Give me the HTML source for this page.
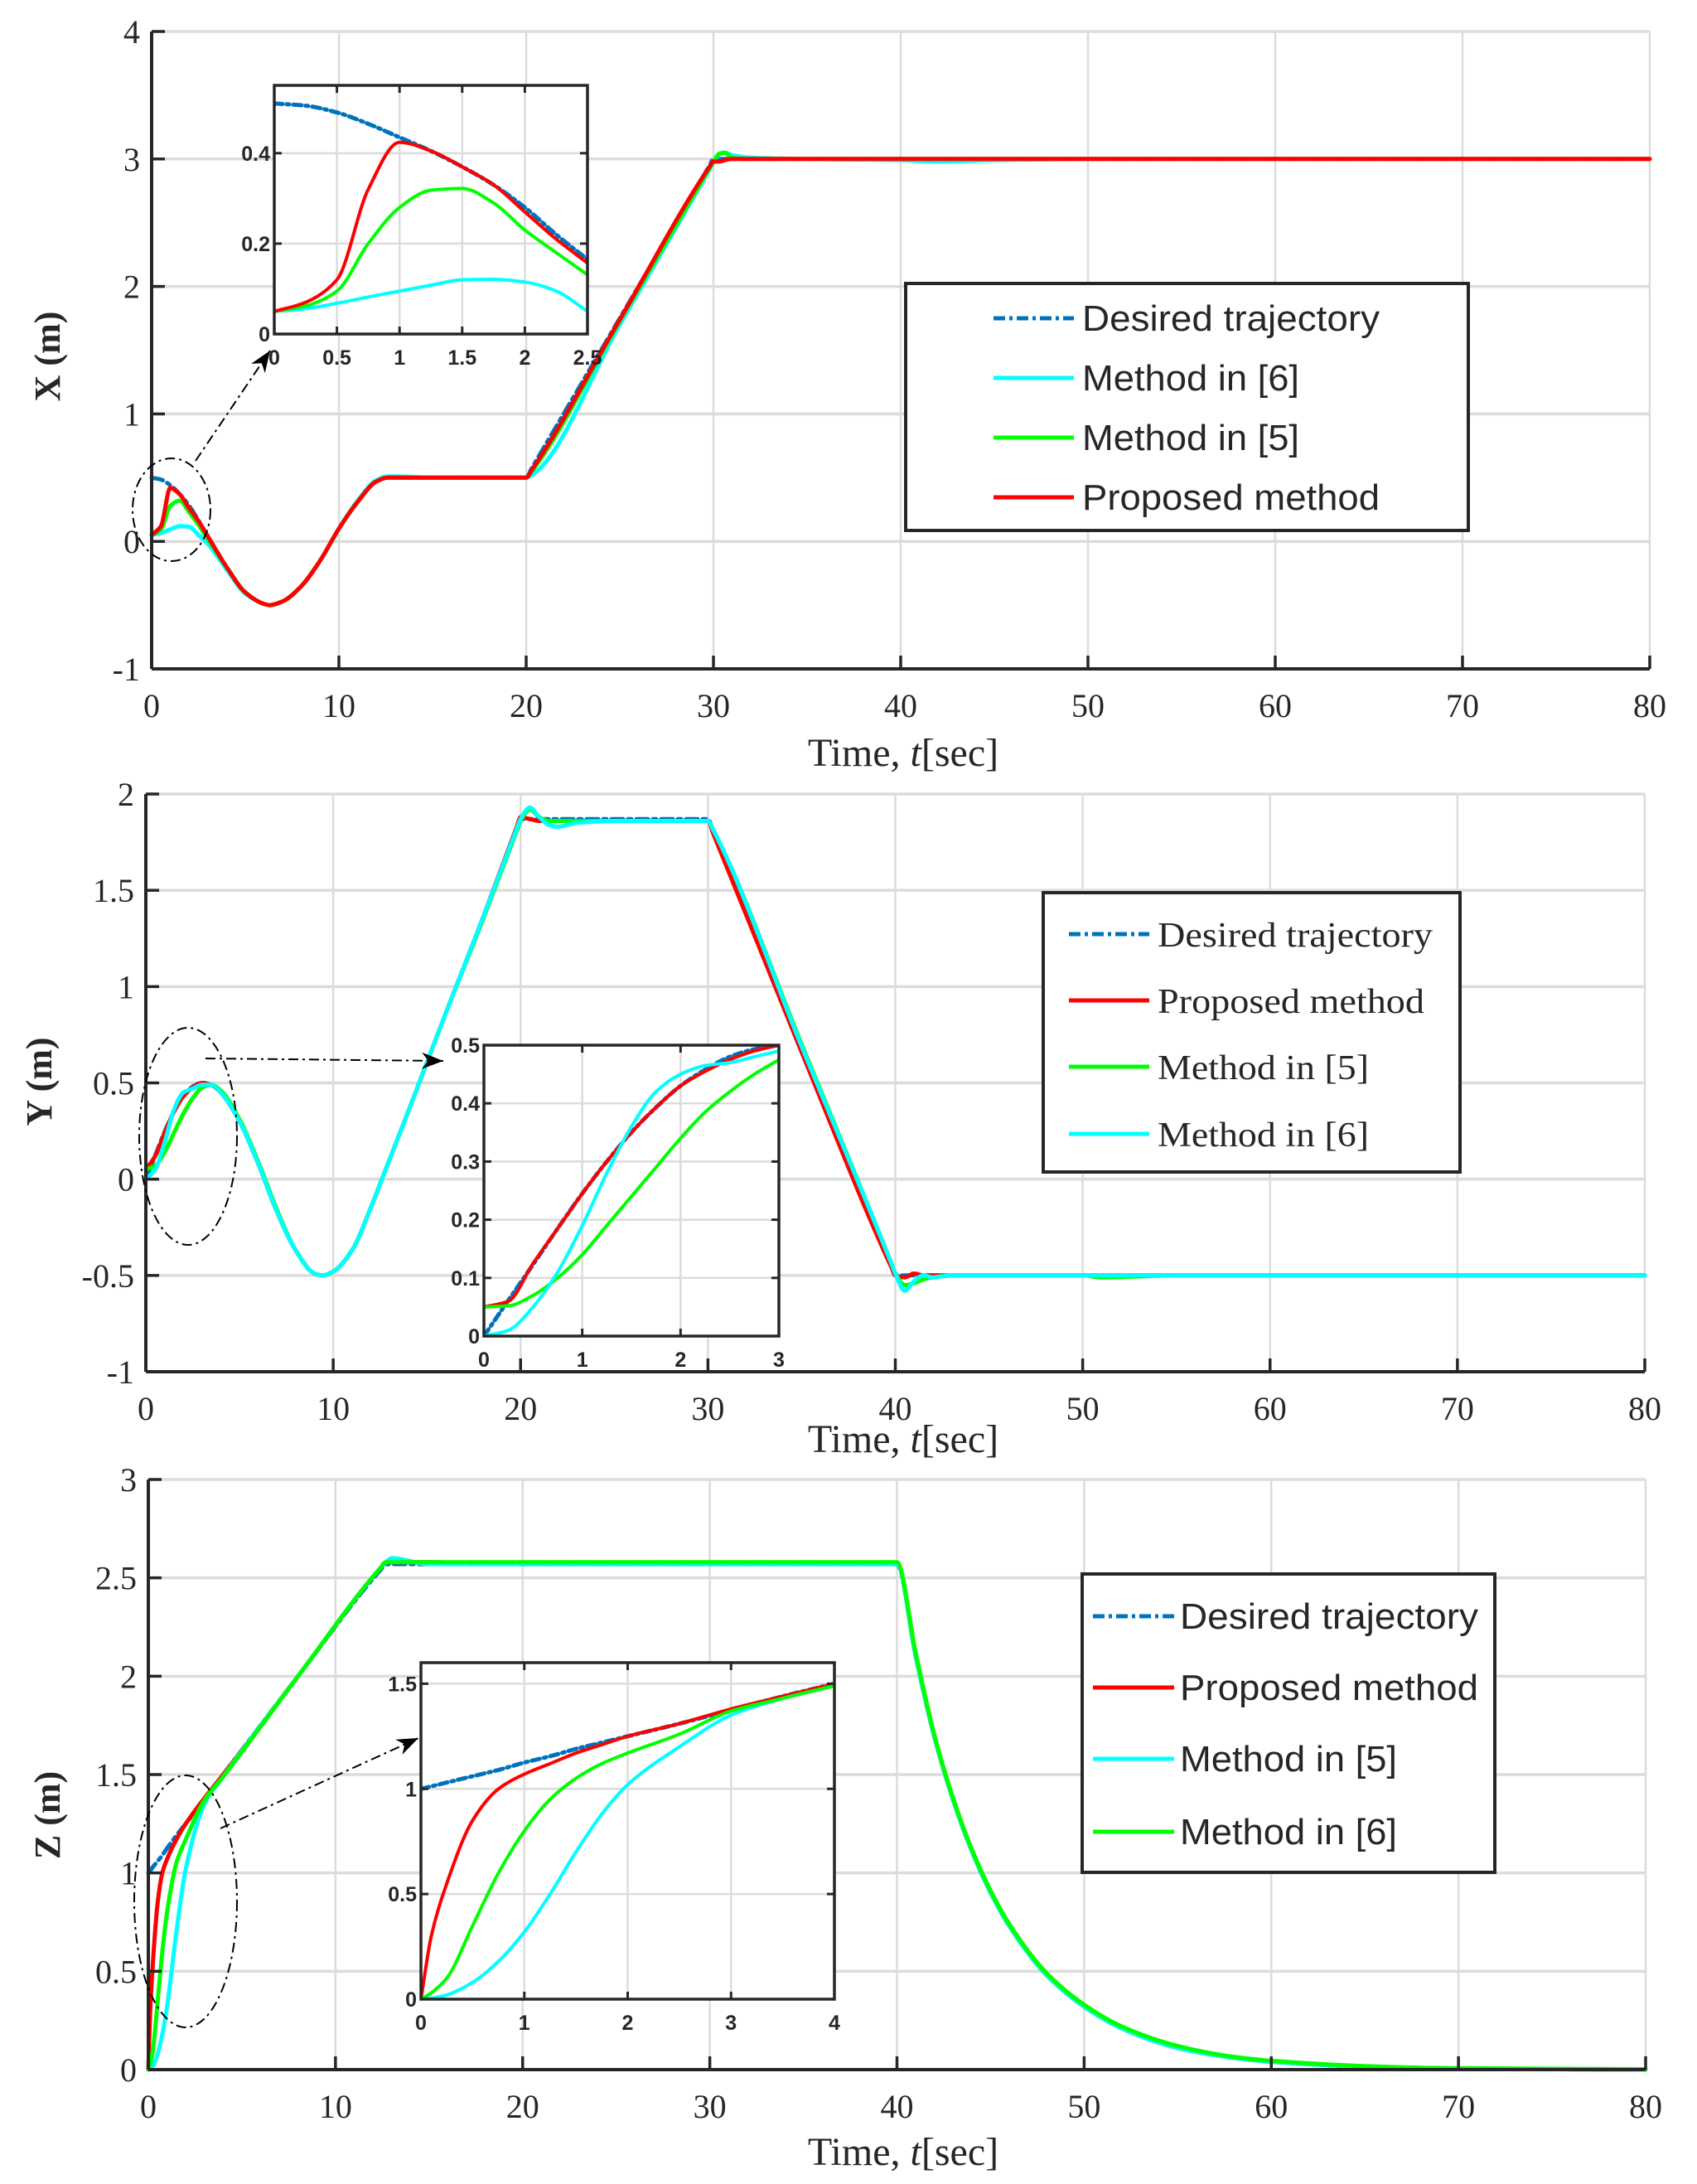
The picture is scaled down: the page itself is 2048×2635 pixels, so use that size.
<!DOCTYPE html>
<html><head><meta charset="utf-8">
<style>
html,body{margin:0;padding:0;background:#fff;}
svg{display:block;}
text{fill:#262626;}
</style></head>
<body>
<svg id="fig" width="2048" height="2635" viewBox="0 0 2048 2635" xmlns="http://www.w3.org/2000/svg"></svg>
<script>
// ---------- Plot 1 (X) data ----------
const p1Time = [0,0.5,1,1.5,2,2.5,3,4,5,6,6.3,7,8,9,10,11,12,12.6,13,15,19.8,20,20.3,25,29.8,30,30.3,30.6,31,32,35,40,42,45,50,80];
const p1Desired = [0.5,0.485,0.44,0.37,0.28,0.165,0.04,-0.2,-0.4,-0.49,-0.5,-0.47,-0.35,-0.15,0.1,0.31,0.47,0.5,0.5,0.5,0.5,0.5,0.575,1.75,2.95,3,3,3,3,3,3,3,3,3,3,3];
const p1Method6 = [0.05,0.065,0.095,0.12,0.115,0.05,-0.02,-0.22,-0.41,-0.49,-0.5,-0.47,-0.35,-0.15,0.1,0.32,0.48,0.51,0.51,0.5,0.5,0.5,0.52,1.7,2.92,2.97,3.04,3.05,3.03,3.01,3,2.99,2.98,2.99,3,3];
const p1Method5 = [0.05,0.095,0.28,0.32,0.23,0.13,0.02,-0.2,-0.4,-0.49,-0.5,-0.47,-0.35,-0.15,0.1,0.31,0.47,0.5,0.5,0.5,0.5,0.5,0.55,1.73,2.93,2.98,3.04,3.05,3.01,3,3,3,3,3,3,3];
const p1Proposed = [0.05,0.12,0.42,0.37,0.26,0.16,0.04,-0.2,-0.4,-0.49,-0.5,-0.47,-0.35,-0.15,0.1,0.31,0.47,0.5,0.5,0.5,0.5,0.5,0.56,1.74,2.94,2.98,2.98,2.99,3,3,3,3,3,3,3,3];
const p1InTime = [0,0.25,0.5,0.75,1,1.25,1.5,1.75,2,2.25,2.5];
const p1InDesired = [0.51,0.505,0.49,0.465,0.435,0.405,0.37,0.33,0.28,0.22,0.165];
const p1InMethod6 = [0.05,0.056,0.068,0.082,0.095,0.108,0.12,0.121,0.115,0.095,0.05];
const p1InMethod5 = [0.05,0.062,0.095,0.2,0.28,0.318,0.322,0.29,0.23,0.18,0.131];
const p1InProposed = [0.05,0.07,0.12,0.32,0.424,0.405,0.37,0.33,0.27,0.21,0.157];
const p1YTicks = [-1,0,1,2,3,4];
const p1XTicks = [0,10,20,30,40,50,60,70,80];
const p1InYTicks = [0,0.2,0.4];
const p1InXTicks = [0,0.5,1,1.5,2,2.5];

// ---------- Plot 2 (Y) data ----------
const p2Time = [0,0.5,1,1.5,2,2.5,3,3.5,4,5,6,7,8,9,9.45,10,11,12,12.6,14,16,18,19.8,20,20.5,21,21.5,22,23,25,30,30.3,35,39.8,40,40.5,41,41.5,42,43,45,50,51,55,80];
const p2Desired = [0,0.123,0.245,0.35,0.43,0.48,0.5,0.49,0.45,0.3,0.08,-0.17,-0.37,-0.49,-0.5,-0.48,-0.37,-0.15,0,0.35,0.86,1.36,1.82,1.87,1.87,1.87,1.87,1.87,1.87,1.87,1.87,1.80,0.68,-0.45,-0.5,-0.5,-0.5,-0.5,-0.5,-0.5,-0.5,-0.5,-0.5,-0.5,-0.5];
const p2Proposed = [0.05,0.12,0.24,0.35,0.43,0.475,0.5,0.49,0.45,0.3,0.08,-0.17,-0.37,-0.49,-0.5,-0.48,-0.37,-0.15,0,0.35,0.86,1.36,1.83,1.88,1.87,1.86,1.86,1.86,1.86,1.86,1.86,1.79,0.66,-0.46,-0.5,-0.51,-0.49,-0.5,-0.5,-0.5,-0.5,-0.5,-0.5,-0.5,-0.5];
const p2Method5 = [0.05,0.07,0.14,0.24,0.34,0.42,0.475,0.49,0.46,0.31,0.09,-0.16,-0.37,-0.49,-0.5,-0.48,-0.37,-0.15,0,0.35,0.86,1.35,1.81,1.86,1.92,1.88,1.86,1.86,1.86,1.86,1.86,1.81,0.7,-0.44,-0.49,-0.55,-0.54,-0.52,-0.51,-0.5,-0.5,-0.5,-0.51,-0.5,-0.5];
const p2Method6 = [0,0.05,0.19,0.36,0.45,0.47,0.49,0.49,0.45,0.3,0.08,-0.17,-0.37,-0.49,-0.5,-0.48,-0.37,-0.15,0,0.35,0.86,1.36,1.82,1.87,1.93,1.88,1.84,1.83,1.85,1.86,1.86,1.81,0.69,-0.44,-0.49,-0.58,-0.53,-0.5,-0.51,-0.5,-0.5,-0.5,-0.5,-0.5,-0.5];
const p2InTime = [0,0.25,0.5,0.75,1,1.25,1.5,1.75,2,2.25,2.5,2.75,3];
const p2InDesired = [0,0.062,0.123,0.185,0.245,0.3,0.35,0.393,0.43,0.458,0.48,0.493,0.5];
const p2InProposed = [0.05,0.06,0.125,0.185,0.245,0.3,0.35,0.393,0.43,0.455,0.475,0.49,0.5];
const p2InMethod5 = [0.05,0.052,0.07,0.1,0.14,0.19,0.24,0.29,0.34,0.385,0.42,0.45,0.475];
const p2InMethod6 = [0,0.01,0.05,0.11,0.19,0.28,0.36,0.42,0.45,0.465,0.47,0.48,0.49];
const p2YTicks = [-1,-0.5,0,0.5,1,1.5,2];
const p2XTicks = [0,10,20,30,40,50,60,70,80];
const p2InYTicks = [0,0.1,0.2,0.3,0.4,0.5];
const p2InXTicks = [0,1,2,3];

// ---------- Plot 3 (Z) data ----------
const p3Time = [0,0.1,0.25,0.5,0.75,1,1.5,2,3,4,8,12.4,12.7,13,15,20,30,39.8,40,41,42,43,44,45,46,48,50,52,55,58,60,65,70,80];
const p3Desired = [1,1.012,1.03,1.06,1.09,1.125,1.19,1.25,1.375,1.5,2.0,2.54,2.57,2.57,2.57,2.57,2.57,2.57,2.57,2.1,1.69,1.37,1.11,0.9,0.73,0.48,0.32,0.21,0.11,0.06,0.04,0.015,0.005,0];
const p3Proposed = [0,0.3,0.55,0.85,1.0,1.07,1.17,1.25,1.38,1.5,2.0,2.55,2.58,2.58,2.58,2.57,2.57,2.57,2.57,2.1,1.69,1.37,1.11,0.9,0.73,0.48,0.32,0.21,0.11,0.06,0.04,0.015,0.005,0];
const p3Method5 = [0,0.005,0.02,0.08,0.18,0.32,0.7,1.02,1.35,1.49,2.0,2.55,2.58,2.6,2.57,2.57,2.57,2.57,2.57,2.1,1.69,1.37,1.11,0.9,0.73,0.48,0.32,0.21,0.11,0.06,0.04,0.015,0.005,0];
const p3Method6 = [0,0.03,0.1,0.35,0.6,0.8,1.05,1.17,1.37,1.49,2.0,2.55,2.58,2.58,2.58,2.58,2.58,2.58,2.58,2.12,1.7,1.38,1.12,0.91,0.74,0.49,0.33,0.22,0.12,0.065,0.045,0.018,0.007,0.002];
const p3InTime = [0,0.1,0.25,0.5,0.75,1,1.25,1.5,1.75,2,2.5,3,3.5,4];
const p3InDesired = [1,1.012,1.03,1.06,1.09,1.125,1.155,1.19,1.22,1.25,1.31,1.375,1.44,1.5];
const p3InProposed = [0,0.3,0.55,0.85,1.0,1.07,1.12,1.17,1.21,1.25,1.31,1.38,1.44,1.5];
const p3InMethod5 = [0,0.005,0.02,0.08,0.18,0.32,0.5,0.7,0.88,1.02,1.2,1.35,1.43,1.49];
const p3InMethod6 = [0,0.03,0.1,0.35,0.6,0.8,0.95,1.05,1.12,1.17,1.26,1.37,1.43,1.49];
const p3YTicks = [0,0.5,1,1.5,2,2.5,3];
const p3XTicks = [0,10,20,30,40,50,60,70,80];
const p3InYTicks = [0,0.5,1,1.5];
const p3InXTicks = [0,1,2,3,4];

// ---------- drawing ----------
const NS = 'http://www.w3.org/2000/svg';
const svg = document.getElementById('fig');
const BLUE='#0072BD', CYAN='#00FFFF', GREEN='#00FF00', RED='#FF0000', AX='#262626', GRID='#dcdcdc';
function mk(tag, attrs, parent){
  const e = document.createElementNS(NS, tag);
  for (const k in attrs) e.setAttribute(k, attrs[k]);
  (parent||svg).appendChild(e);
  return e;
}
function scale(d0,d1,r0,r1){ return v => r0 + (v-d0)/(d1-d0)*(r1-r0); }
function monoPath(px, py){
  const n = px.length;
  if (n < 3){ let d=''; for(let i=0;i<n;i++) d+=(i?'L':'M')+px[i].toFixed(1)+' '+py[i].toFixed(1); return d; }
  const dx=[], s=[];
  for (let i=0;i<n-1;i++){ dx.push(px[i+1]-px[i]); s.push((py[i+1]-py[i])/dx[i]); }
  const m=[s[0]];
  for (let i=1;i<n-1;i++){
    if (s[i-1]*s[i] <= 0) m.push(0);
    else { const w1=2*dx[i]+dx[i-1], w2=dx[i]+2*dx[i-1]; m.push((w1+w2)/(w1/s[i-1]+w2/s[i])); }
  }
  m.push(s[n-2]);
  let d='M'+px[0].toFixed(1)+' '+py[0].toFixed(1);
  for (let i=0;i<n-1;i++){
    const h=dx[i]/3;
    d+='C'+(px[i]+h).toFixed(1)+' '+(py[i]+m[i]*h).toFixed(1)+' '+(px[i+1]-h).toFixed(1)+' '+(py[i+1]-m[i+1]*h).toFixed(1)+' '+px[i+1].toFixed(1)+' '+py[i+1].toFixed(1);
  }
  return d;
}
function series(g, xs, ys, sx, sy, color, w, dash, name){
  const d = monoPath(xs.map(sx), ys.map(sy));
  const p = mk('path', {d:d, fill:'none', stroke:color, 'stroke-width':w, 'stroke-linejoin':'round', 'stroke-linecap':'round'}, g);
  if (dash) p.setAttribute('stroke-dasharray', dash);
  
  
  return p;
}
function fmt(v){ return String(v); }

function mainAxes(cfg){
  const g = mk('g', {});
  
  
  const sx = scale(0,80,cfg.x0,cfg.x1), sy = scale(cfg.ymin,cfg.ymax,cfg.yb,cfg.yt);
  cfg.xt.forEach(v=>{ const l=mk('line',{x1:sx(v),x2:sx(v),y1:cfg.yt,y2:cfg.yb,stroke:GRID,'stroke-width':2.5},g);
      });
  cfg.yt_.forEach(v=>{ const l=mk('line',{x1:cfg.x0,x2:cfg.x1,y1:sy(v),y2:sy(v),stroke:GRID,'stroke-width':3.5},g);
      });
  return {g,sx,sy};
}
function mainFrame(cfg, sx, sy){
  const g = mk('g', {});
  
  
  mk('line',{x1:cfg.x0,x2:cfg.x0,y1:cfg.yt,y2:cfg.yb,stroke:AX,'stroke-width':4},g);
  mk('line',{x1:cfg.x0,x2:cfg.x1,y1:cfg.yb,y2:cfg.yb,stroke:AX,'stroke-width':4},g);
  cfg.xt.forEach(v=>{
    mk('line',{x1:sx(v),x2:sx(v),y1:cfg.yb,y2:cfg.yb-16,stroke:AX,'stroke-width':3.5},g);
    const t=mk('text',{x:sx(v),y:cfg.yb+58,'text-anchor':'middle','font-family':'Liberation Serif, serif','font-size':40},g);
    t.textContent=fmt(v);
     
  });
  cfg.yt_.forEach(v=>{
    mk('line',{x1:cfg.x0,x2:cfg.x0+16,y1:sy(v),y2:sy(v),stroke:AX,'stroke-width':3.5},g);
    const t=mk('text',{x:cfg.x0-14,y:sy(v)+14,'text-anchor':'end','font-family':'Liberation Serif, serif','font-size':40},g);
    t.textContent=fmt(v);
     
  });
  const xl=mk('text',{x:cfg.xlx,y:cfg.xly,'text-anchor':'middle','font-family':'Liberation Serif, serif','font-size':48},g);
  xl.innerHTML='Time, <tspan font-style="italic">t</tspan>[sec]';
   
  const yl=mk('text',{x:0,y:0,'text-anchor':'middle','font-family':'Liberation Serif, serif','font-size':44,'font-weight':'bold','transform':`translate(${cfg.ylx},${cfg.yly}) rotate(-90)`},g);
  yl.textContent=cfg.ylabel;
   
}
function inset(cfg, sets){
  const g = mk('g', {});
  
  
  const {x0,x1,yt,yb}=cfg;
  mk('rect',{x:x0,y:yt,width:x1-x0,height:yb-yt,fill:'#fff'},g);
  const sx=scale(cfg.xmin,cfg.xmax,x0,x1), sy=scale(0,cfg.ymax,yb,yt);
  cfg.xt.forEach(v=>{ mk('line',{x1:sx(v),x2:sx(v),y1:yt,y2:yb,stroke:GRID,'stroke-width':2.5},g); });
  cfg.yt_.forEach(v=>{ mk('line',{x1:x0,x2:x1,y1:sy(v),y2:sy(v),stroke:GRID,'stroke-width':2.5},g); });
  const cid='clip-'+cfg.name;
  const cp=mk('clipPath',{id:cid},g); mk('rect',{x:x0,y:yt,width:x1-x0,height:yb-yt},cp);
  const sg=mk('g',{'clip-path':`url(#${cid})`},g);
  sets.forEach(s=>series(sg,s[0],s[1],sx,sy,s[2],s[3],s[4],s[5]));
  mk('rect',{x:x0,y:yt,width:x1-x0,height:yb-yt,fill:'none',stroke:AX,'stroke-width':3.5},g);
  cfg.xt.forEach(v=>{
    mk('line',{x1:sx(v),x2:sx(v),y1:yb,y2:yb-9,stroke:AX,'stroke-width':3},g);
    mk('line',{x1:sx(v),x2:sx(v),y1:yt,y2:yt+9,stroke:AX,'stroke-width':3},g);
    const t=mk('text',{x:sx(v),y:yb+37,'text-anchor':'middle','font-family':'Liberation Sans, sans-serif','font-size':25,'font-weight':'bold'},g);
    t.textContent=fmt(v);  
  });
  cfg.yt_.forEach(v=>{
    mk('line',{x1:x0,x2:x0+9,y1:sy(v),y2:sy(v),stroke:AX,'stroke-width':3},g);
    mk('line',{x1:x1,x2:x1-9,y1:sy(v),y2:sy(v),stroke:AX,'stroke-width':3},g);
    const t=mk('text',{x:x0-5,y:sy(v)+9,'text-anchor':'end','font-family':'Liberation Sans, sans-serif','font-size':25,'font-weight':'bold'},g);
    t.textContent=fmt(v);  
  });
}
function legend(cfg, entries){
  const g = mk('g', {});
  
  
  mk('rect',{x:cfg.x,y:cfg.y,width:cfg.w,height:cfg.h,fill:'#fff',stroke:AX,'stroke-width':4},g);
  entries.forEach((e,i)=>{
    const y=cfg.ys[i];
    const l=mk('line',{x1:cfg.lx0,x2:cfg.lx1,y1:y,y2:y,stroke:e[1],'stroke-width':5},g);
    if(e[2]) l.setAttribute('stroke-dasharray',e[2]);
    const t=mk('text',{x:cfg.tx,y:y+15,'font-family':cfg.font,'font-size':cfg.fs,fill:'#000',textLength:e[3],lengthAdjust:'spacingAndGlyphs'},g);
    t.textContent=e[0];
     
  });
}
function annot(name, ex,ey,rx,ry, ax0,ay0,ax1,ay1){
  const g = mk('g', {});
  
  
  mk('ellipse',{cx:ex,cy:ey,rx:rx,ry:ry,fill:'none',stroke:'#000','stroke-width':2,'stroke-dasharray':'12 5 3 5'},g);
  mk('line',{x1:ax0,y1:ay0,x2:ax1,y2:ay1,stroke:'#000','stroke-width':2,'stroke-dasharray':'12 5 3 5'},g);
  const a=Math.atan2(ay1-ay0,ax1-ax0), L=26, W=10;
  const bx=ax1-L*Math.cos(a), by=ay1-L*Math.sin(a);
  mk('polygon',{points:`${ax1},${ay1} ${bx-W*Math.sin(a)},${by+W*Math.cos(a)} ${bx+L*0.3*Math.cos(a)},${by+L*0.3*Math.sin(a)} ${bx+W*Math.sin(a)},${by-W*Math.cos(a)}`,fill:'#000'},g);
}

// Plot 1
const c1={name:'x-position-plot',x0:183,x1:1991,yt:38,yb:807,ymin:-1,ymax:4,xt:p1XTicks,yt_:p1YTicks,xlx:1090,xly:924,ylx:72,yly:430,ylabel:'X   (m)'};
let a1=mainAxes(c1);
series(a1.g,p1Time,p1Desired,a1.sx,a1.sy,BLUE,5,'14 6 4 6','x-desired-line');
series(a1.g,p1Time,p1Method6,a1.sx,a1.sy,CYAN,5,null,'x-method6-line');
series(a1.g,p1Time,p1Method5,a1.sx,a1.sy,GREEN,5,null,'x-method5-line');
series(a1.g,p1Time,p1Proposed,a1.sx,a1.sy,RED,5,null,'x-proposed-line');
mainFrame(c1,a1.sx,a1.sy);
annot('x-zoom-annotation',207,615,47,62,236,556,326,423);
inset({name:'x-inset',x0:331,x1:709,yt:103,yb:403,xmin:0,xmax:2.5,ymax:0.55,xt:p1InXTicks,yt_:p1InYTicks},[
 [p1InTime,p1InDesired,BLUE,5,'10 5 3 5','x-inset-desired'],
 [p1InTime,p1InMethod6,CYAN,4,null,'x-inset-method6'],
 [p1InTime,p1InMethod5,GREEN,4,null,'x-inset-method5'],
 [p1InTime,p1InProposed,RED,4,null,'x-inset-proposed']]);
legend({name:'x-legend',x:1093,y:342,w:679,h:298,lx0:1199,lx1:1296,tx:1306,fs:44,font:'Liberation Sans, sans-serif',ys:[384,456,528,600]},[
 ['Desired trajectory',BLUE,'14 5 4 5',359],['Method in [6]',CYAN,null,262],['Method in [5]',GREEN,null,262],['Proposed method',RED,null,359]]);

// Plot 2
const c2={name:'y-position-plot',x0:176,x1:1985,yt:958,yb:1655,ymin:-1,ymax:2,xt:p2XTicks,yt_:p2YTicks,xlx:1090,xly:1752,ylx:62,yly:1305,ylabel:'Y (m)'};
let a2=mainAxes(c2);
series(a2.g,p2Time,p2Desired,a2.sx,a2.sy,BLUE,5,'14 6 4 6','y-desired-line');
series(a2.g,p2Time,p2Proposed,a2.sx,a2.sy,RED,5,null,'y-proposed-line');
series(a2.g,p2Time,p2Method5,a2.sx,a2.sy,GREEN,5,null,'y-method5-line');
series(a2.g,p2Time,p2Method6,a2.sx,a2.sy,CYAN,5,null,'y-method6-line');
mainFrame(c2,a2.sx,a2.sy);
annot('y-zoom-annotation',227,1371,59,131,248,1277,535,1280);
inset({name:'y-inset',x0:584,x1:940,yt:1261,yb:1612,xmin:0,xmax:3,ymax:0.5,xt:p2InXTicks,yt_:p2InYTicks},[
 [p2InTime,p2InDesired,BLUE,5,'10 5 3 5','y-inset-desired'],
 [p2InTime,p2InProposed,RED,4,null,'y-inset-proposed'],
 [p2InTime,p2InMethod5,GREEN,4,null,'y-inset-method5'],
 [p2InTime,p2InMethod6,CYAN,4,null,'y-inset-method6']]);
legend({name:'y-legend',x:1259,y:1077,w:503,h:337,lx0:1290,lx1:1387,tx:1397,fs:42,font:'Liberation Serif, serif',ys:[1127,1207,1287,1368]},[
 ['Desired trajectory',BLUE,'14 5 4 5',332],['Proposed method',RED,null,322],['Method in [5]',GREEN,null,255],['Method in [6]',CYAN,null,255]]);

// Plot 3
const c3={name:'z-position-plot',x0:179,x1:1986,yt:1785,yb:2497,ymin:0,ymax:3,xt:p3XTicks,yt_:p3YTicks,xlx:1090,xly:2612,ylx:72,yly:2190,ylabel:'Z   (m)'};
let a3=mainAxes(c3);
series(a3.g,p3Time,p3Desired,a3.sx,a3.sy,BLUE,5,'14 6 4 6','z-desired-line');
series(a3.g,p3Time,p3Proposed,a3.sx,a3.sy,RED,5,null,'z-proposed-line');
series(a3.g,p3Time,p3Method5,a3.sx,a3.sy,CYAN,5,null,'z-method5-line');
series(a3.g,p3Time,p3Method6,a3.sx,a3.sy,GREEN,5,null,'z-method6-line');
mainFrame(c3,a3.sx,a3.sy);
annot('z-zoom-annotation',224,2294,62,152,266,2206,505,2097);
inset({name:'z-inset',x0:508,x1:1007,yt:2006,yb:2412,xmin:0,xmax:4,ymax:1.6,xt:p3InXTicks,yt_:p3InYTicks},[
 [p3InTime,p3InDesired,BLUE,5,'10 5 3 5','z-inset-desired'],
 [p3InTime,p3InProposed,RED,4,null,'z-inset-proposed'],
 [p3InTime,p3InMethod5,CYAN,4,null,'z-inset-method5'],
 [p3InTime,p3InMethod6,GREEN,4,null,'z-inset-method6']]);
legend({name:'z-legend',x:1306,y:1899,w:498,h:360,lx0:1319,lx1:1417,tx:1424,fs:44,font:'Liberation Sans, sans-serif',ys:[1950,2036,2122,2210]},[
 ['Desired trajectory',BLUE,'14 5 4 5',360],['Proposed method',RED,null,360],['Method in [5]',CYAN,null,262],['Method in [6]',GREEN,null,262]]);
</script>
</body></html>
